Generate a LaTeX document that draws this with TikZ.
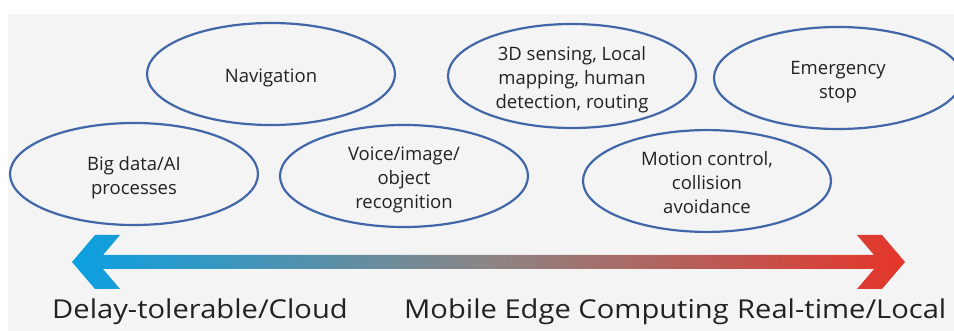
\documentclass[tikz,border=0pt]{standalone}
\usepackage{fontspec}
\setmainfont{Open Sans}
\newfontfamily\condfont[FakeStretch=1.12]{Open Sans}
\usetikzlibrary{shapes.geometric}
\definecolor{bgc}{HTML}{F4F4F4}
\definecolor{ringc}{HTML}{4267A8}
\definecolor{txtc}{HTML}{222222}
\definecolor{cloudc}{HTML}{0AA0E2}
\definecolor{midc}{HTML}{8C8584}
\definecolor{localc}{HTML}{E5352A}
\newcommand{\tsktext}[1]{\raisebox{-4pt}[\height][\depth]{\begin{tabular}{@{}c@{}}#1\end{tabular}}}
\tikzset{
  task/.style={ellipse, draw=ringc, line width=2.2pt, minimum width=#1, minimum height=102pt,
    inner sep=0pt, text=txtc, font=\fontsize{18.5}{24}\selectfont},
  task/.default=248pt,
  scale label/.style={anchor=base west, inner sep=0pt, text=txtc, font=\condfont\fontsize{26}{28}\selectfont}
}
\begin{document}
\begin{tikzpicture}[x=1pt,y=-1pt]
\clip (0,0) rectangle (954,331);
\fill[white] (0,0) rectangle (954,331);
\fill[bgc] (8,14) rectangle (954,331);
\node[task] (nav) at (271,74) {\tsktext{Navigation}};
\node[task] (big) at (134,174) {\tsktext{Big data/AI\\processes}};
\node[task] (voice) at (404,176) {\tsktext{Voice/image/\\object\\recognition}};
\node[task, minimum height=104pt] (sens) at (572,76) {\tsktext{3D sensing, Local\\mapping, human\\detection, routing}};
\node[task] (stop) at (838,78) {\tsktext{Emergency\\stop}};
\node[task, minimum height=98pt] (motion) at (707,181) {\tsktext{Motion control,\\collision\\avoidance}};
\coordinate (ltip) at (72,262);
\coordinate (rtip) at (905,262);
\shade[left color=cloudc, right color=localc, middle color=midc]
  (ltip) -- (95,235) -- (120,235) -- (103,255) -- (874,255) -- (857,235) -- (882,235) -- (rtip)
  -- (882,289) -- (857,289) -- (874,269) -- (103,269) -- (120,289) -- (95,289) -- cycle;
\node[scale label] (cloud) at (52,319) {Delay-tolerable/Cloud};
\node[scale label] (mec) at (404,319) {Mobile Edge Computing};
\node[scale label] (local) at (737,319) {Real-time/Local};
\end{tikzpicture}
\end{document}
